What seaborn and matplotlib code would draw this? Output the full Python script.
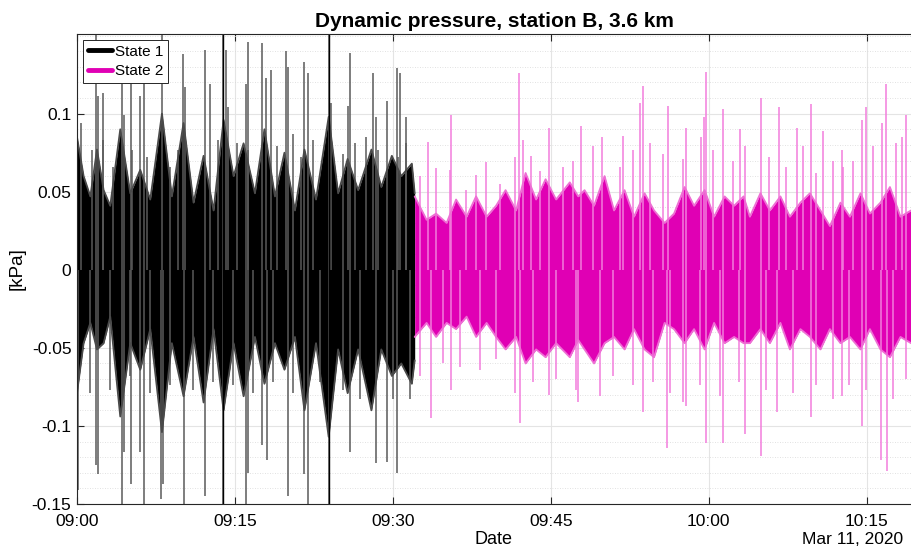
import numpy as np
import pandas as pd
import matplotlib
matplotlib.use("Agg")
import matplotlib.pyplot as plt
from matplotlib.lines import Line2D
from matplotlib.ticker import MultipleLocator
import seaborn as sns

# minutes after 09:00, values in kPa

# edge of the dense record, state 1
s1_t = [0.0, 0.63, 1.27, 1.9, 2.53, 3.16, 4.11, 5.06, 6.01, 6.96, 8.07, 9.01, 10.12,
        11.07, 12.02, 12.97, 13.92, 14.87, 15.82, 16.9, 17.8, 18.8, 19.7, 20.7, 21.6,
        22.7, 23.9, 24.8, 25.7, 26.7, 27.96, 28.9, 29.9, 30.8, 31.8, 32.07]
s1_hi = [0.085, 0.060, 0.047, 0.077, 0.051, 0.041, 0.090, 0.049, 0.064, 0.045, 0.100, 0.047, 0.094,
         0.043, 0.073, 0.038, 0.096, 0.060, 0.081, 0.049, 0.090, 0.047, 0.075, 0.038, 0.077,
         0.045, 0.098, 0.049, 0.071, 0.051, 0.077, 0.053, 0.073, 0.060, 0.068, 0.049]
s1_lo = [-0.079, -0.047, -0.034, -0.051, -0.047, -0.030, -0.094, -0.047, -0.064, -0.038, -0.104, -0.047, -0.081,
         -0.043, -0.085, -0.038, -0.090, -0.047, -0.081, -0.043, -0.073, -0.047, -0.064, -0.043, -0.090,
         -0.047, -0.107, -0.051, -0.079, -0.051, -0.090, -0.051, -0.068, -0.060, -0.073, -0.058]

# edge of the dense record, state 2
s2_t = [32.07, 33.2, 34.1, 35.1, 36.0, 37.0, 37.9, 38.9, 39.8, 40.7, 41.7, 42.6, 43.6, 44.5,
        45.5, 46.8, 47.6, 48.2, 49.1, 50.1, 51.0, 52.0, 52.9, 53.9, 54.8, 55.8, 56.7, 57.7,
        58.6, 59.6, 60.5, 61.5, 62.4, 63.3, 63.9, 64.9, 65.8, 66.8, 67.7, 68.7, 69.6, 70.6,
        71.5, 72.5, 73.4, 74.4, 75.3, 76.3, 77.2, 78.2, 79.2]
s2_hi = [0.047, 0.032, 0.036, 0.030, 0.045, 0.034, 0.047, 0.034, 0.041, 0.051, 0.038, 0.062, 0.045, 0.058,
         0.045, 0.056, 0.047, 0.051, 0.041, 0.060, 0.038, 0.051, 0.034, 0.049, 0.038, 0.030, 0.036, 0.053,
         0.041, 0.051, 0.034, 0.047, 0.041, 0.047, 0.034, 0.049, 0.038, 0.047, 0.034, 0.043, 0.049, 0.038,
         0.028, 0.043, 0.034, 0.049, 0.036, 0.043, 0.053, 0.034, 0.038]
s2_lo = [-0.043, -0.034, -0.043, -0.034, -0.038, -0.030, -0.043, -0.034, -0.043, -0.051, -0.043, -0.060, -0.051, -0.056,
         -0.047, -0.056, -0.045, -0.051, -0.060, -0.047, -0.043, -0.051, -0.038, -0.051, -0.056, -0.034, -0.038, -0.047,
         -0.038, -0.051, -0.034, -0.047, -0.043, -0.047, -0.047, -0.038, -0.047, -0.034, -0.051, -0.038, -0.043, -0.051,
         -0.038, -0.047, -0.043, -0.051, -0.038, -0.051, -0.056, -0.043, -0.047]

# single spikes, state 1
s1_up_t = [0.38, 1.39, 1.80, 1.99, 2.47, 2.5, 3.45, 4.27, 4.46, 5.12, 5.19, 5.98, 6.36, 6.61,
           8.07, 8.83, 9.62, 10.06, 10.25, 12.15, 12.62, 13.41, 13.86, 14.14, 14.33, 15.15,
           16.04, 16.23, 16.26, 17.56, 17.94, 18.41, 18.95, 19.84, 20.03, 20.53, 21.32, 21.54,
           21.92, 22.43, 23.91, 24.10, 25.27, 25.72, 25.91, 26.38, 27.49, 28.09, 28.38, 28.59,
           29.42, 30.37, 30.49, 30.65, 31.22, 31.28]
s1_up_v = [0.094, 0.077, 0.16, 0.111, 0.113, 0.083, 0.066, 0.119, 0.099, 0.121, 0.077, 0.111, 0.121, 0.072,
           0.16, 0.066, 0.077, 0.138, 0.117, 0.141, 0.119, 0.083, 0.2, 0.141, 0.104, 0.081,
           0.119, 0.146, 0.077, 0.145, 0.123, 0.128, 0.079, 0.140, 0.130, 0.087, 0.072, 0.133,
           0.126, 0.083, 0.2, 0.107, 0.074, 0.105, 0.139, 0.081, 0.085, 0.126, 0.098, 0.077,
           0.108, 0.129, 0.072, 0.126, 0.098, 0.081]
s1_dn_t = [0.09, 1.23, 1.80, 1.99, 3.13, 4.27, 4.46, 5.03, 5.12, 5.98, 6.36, 6.93, 7.97, 8.16,
           8.83, 10.15, 11.04, 12.15, 12.94, 13.86, 14.83, 16.04, 16.23, 16.73, 17.56, 18.03,
           18.63, 20.03, 20.53, 21.54, 21.92, 23.06, 23.91, 25.27, 25.91, 26.85, 28.38, 29.42,
           30.02, 30.37, 31.6]
s1_dn_v = [-0.141, -0.079, -0.125, -0.131, -0.077, -0.16, -0.117, -0.068, -0.137, -0.117, -0.16, -0.079, -0.147, -0.137,
           -0.074, -0.16, -0.077, -0.145, -0.072, -0.2, -0.074, -0.16, -0.130, -0.079, -0.112, -0.122,
           -0.072, -0.145, -0.079, -0.131, -0.16, -0.072, -0.2, -0.077, -0.117, -0.083, -0.124, -0.123,
           -0.083, -0.130, -0.083]

# single spikes, state 2
s2_up_t = [32.55, 33.31, 34.13, 35.39, 35.49, 36.98, 37.93, 38.81, 40.14, 41.56, 41.95, 42.33,
           43.14, 43.93, 44.79, 46.15, 47.1, 47.83, 48.99, 49.82, 51.53, 51.82, 52.79, 53.43,
           53.71, 54.37, 55.64, 56.09, 57.54, 57.79, 59.27, 59.50, 59.69, 60.38, 61.31, 62.28,
           62.92, 63.39, 64.91, 65.76, 66.62, 67.34, 68.42, 68.92, 69.66, 70.19, 70.80, 71.77,
           72.69, 72.72, 73.67, 74.50, 74.97, 75.56, 76.49, 76.87, 77.78, 78.39, 78.77]
s2_up_v = [0.060, 0.082, 0.065, 0.064, 0.099, 0.051, 0.061, 0.069, 0.055, 0.072, 0.126, 0.083,
           0.073, 0.063, 0.091, 0.066, 0.070, 0.092, 0.079, 0.085, 0.066, 0.086, 0.077, 0.107,
           0.118, 0.081, 0.074, 0.105, 0.071, 0.091, 0.085, 0.098, 0.127, 0.077, 0.103, 0.070,
           0.090, 0.079, 0.110, 0.072, 0.104, 0.066, 0.091, 0.079, 0.106, 0.062, 0.089, 0.070,
           0.077, 0.066, 0.070, 0.096, 0.104, 0.079, 0.094, 0.119, 0.081, 0.085, 0.099]
s2_dn_t = [32.55, 33.59, 34.76, 35.49, 36.34, 38.24, 39.82, 41.56, 42.04, 43.3, 44.79, 45.52,
           47.41, 47.54, 49.63, 50.89, 52.79, 53.71, 54.69, 55.99, 56.27, 57.54, 57.79, 59.12,
           59.69, 61.02, 61.31, 62.91, 63.39, 64.91, 65.44, 66.52, 67.97, 69.66, 70.19, 71.77,
           72.69, 73.35, 74.50, 74.93, 76.39, 76.96, 77.46, 78.73]
s2_dn_v = [-0.068, -0.095, -0.060, -0.077, -0.062, -0.064, -0.057, -0.079, -0.098, -0.072, -0.080, -0.070,
           -0.077, -0.085, -0.081, -0.068, -0.074, -0.091, -0.072, -0.114, -0.079, -0.085, -0.087, -0.074,
           -0.111, -0.081, -0.111, -0.072, -0.105, -0.119, -0.077, -0.091, -0.079, -0.094, -0.074, -0.083,
           -0.081, -0.074, -0.100, -0.077, -0.122, -0.129, -0.083, -0.070]

x_ticks = [0, 15, 30, 45, 60, 75]
x_labels = ["09:00", "09:15", "09:30", "09:45", "10:00", "10:15"]
y_ticks = [-0.15, -0.1, -0.05, 0, 0.05, 0.1]
y_labels = ["-0.15", "-0.1", "-0.05", "0", "0.05", "0.1"]

BLACK = "#000000"
MAGENTA = "#e000b4"

sns.set_style("ticks", {"text.color": "black", "axes.labelcolor": "black",
                        "xtick.color": "#262626", "ytick.color": "#262626"})
plt.rcParams["font.family"] = ["Liberation Sans", "DejaVu Sans"]

fig = plt.figure(figsize=(9.11, 5.49), dpi=100)
ax = fig.add_axes([0.0845, 0.082, 0.9155, 0.856])

# grid first (MATLAB style: solid major, dotted minor on y)
ax.set_axisbelow(True)
ax.yaxis.set_minor_locator(MultipleLocator(0.01))
ax.grid(True, which="major", color="#e4e4e4", linewidth=0.8, linestyle="-")
ax.grid(True, which="minor", axis="y", color="#d8d8d8", linewidth=0.6, linestyle=(0, (1, 2)))

rec1 = pd.DataFrame({"t": s1_t, "hi": s1_hi, "lo": s1_lo})
rec2 = pd.DataFrame({"t": s2_t, "hi": s2_hi, "lo": s2_lo})

# spikes
ax.vlines(s1_up_t, 0, s1_up_v, color="#5a5a5a", linewidth=1.1)
ax.vlines(s1_dn_t, 0, s1_dn_v, color="#5a5a5a", linewidth=1.1)
ax.vlines(s2_up_t, 0, s2_up_v, color="#f27ddc", linewidth=1.1)
ax.vlines(s2_dn_t, 0, s2_dn_v, color="#f27ddc", linewidth=1.1)

# dense part of the record with a softer rim
for df, c, rim in [(rec1, BLACK, "#4a4a4a"), (rec2, MAGENTA, "#ee6fd4")]:
    sns.lineplot(data=df, x="t", y="hi", color=rim, linewidth=1.3, ax=ax, legend=False)
    sns.lineplot(data=df, x="t", y="lo", color=rim, linewidth=1.3, ax=ax, legend=False)
    ax.fill_between(df["t"], df["lo"], df["hi"], color=c, linewidth=0)

# the two tall spikes are the full-height black strokes
tall = [t for t, v in zip(s1_up_t, s1_up_v) if v >= 0.2]
ax.vlines(tall, -0.2, 0.2, color=BLACK, linewidth=1.0)

ax.set_xlim(0, 79.2)
ax.set_ylim(-0.15, 0.151)
ax.set_xticks(x_ticks)
ax.set_xticklabels(x_labels)
ax.set_yticks(y_ticks)
ax.set_yticklabels(y_labels)
ax.tick_params(axis="both", which="major", direction="in", length=5, width=0.8,
               labelsize=12.5, labelcolor="black", top=True, right=False)
ax.tick_params(axis="both", which="minor", length=0)
ax.tick_params(axis="x", pad=7)
ax.tick_params(axis="y", pad=4)
for s in ["top", "bottom", "left"]:
    ax.spines[s].set_color("#262626")
    ax.spines[s].set_linewidth(0.8)
ax.spines["right"].set_visible(False)

ax.set_xlabel("Date", fontsize=13, labelpad=2)
ax.set_ylabel("[kPa]", fontsize=13.5, labelpad=4)
ax.set_title("Dynamic pressure, station B, 3.6 km", fontsize=15, fontweight="bold",
             color="black", pad=5)
fig.text(0.991, 0.003, "Mar 11, 2020", ha="right", va="bottom", fontsize=12.5)

handles = [Line2D([0], [0], color=BLACK, linewidth=3.5),
           Line2D([0], [0], color=MAGENTA, linewidth=3.5)]
leg = ax.legend(handles, ["State 1", "State 2"], loc="upper left", fontsize=11,
                frameon=True, fancybox=False, edgecolor="#262626", framealpha=1,
                handlelength=1.6, handletextpad=0.2, borderpad=0.3, labelspacing=0.35,
                borderaxespad=0.4)
leg.get_frame().set_linewidth(0.7)

fig.savefig("out.png", dpi=100)
